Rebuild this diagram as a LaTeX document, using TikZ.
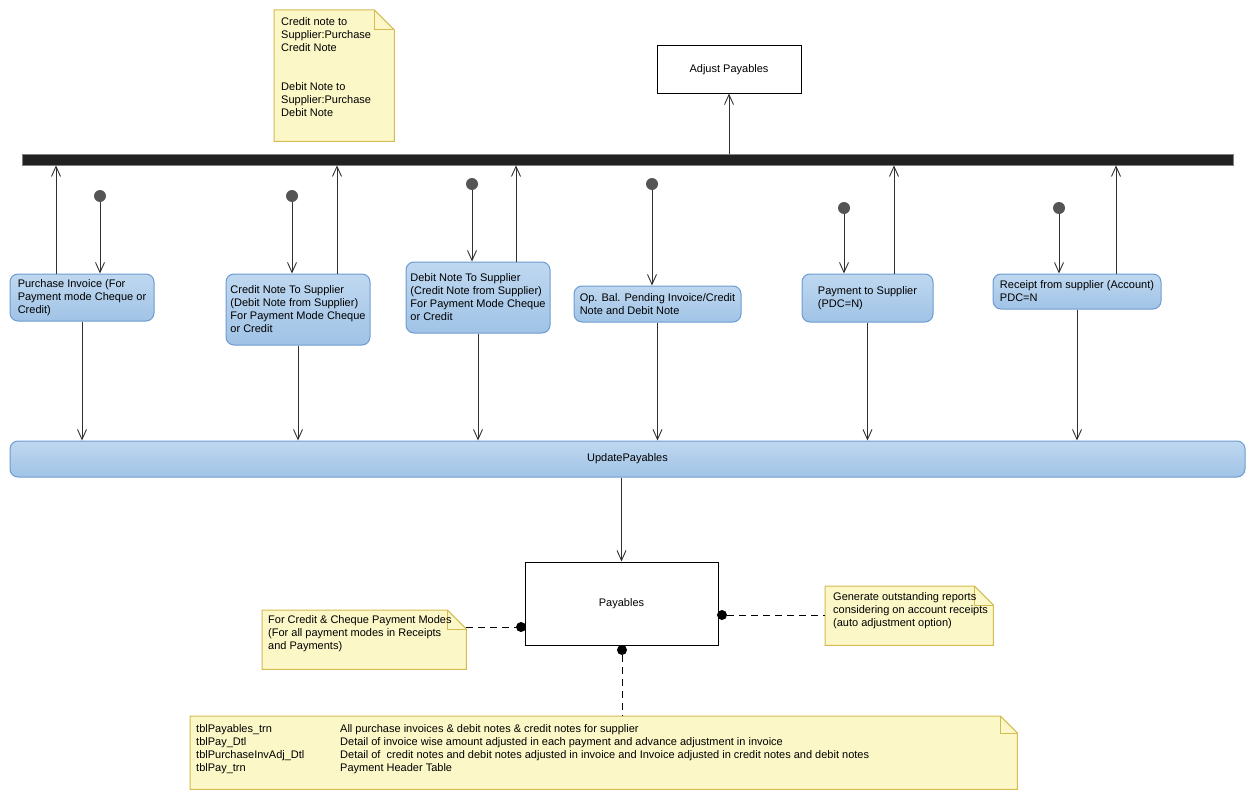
\documentclass[tikz,border=0pt]{standalone}
\usepackage{fontspec}
\setmainfont{Liberation Sans}
\usetikzlibrary{arrows.meta,calc}
\definecolor{notefill}{HTML}{FBF7C7}
\definecolor{noteline}{HTML}{D4BC52}
\definecolor{acttop}{HTML}{BFD8F0}
\definecolor{actbot}{HTML}{A0C3E6}
\definecolor{actline}{HTML}{6D9BD1}
\definecolor{dotgray}{HTML}{555555}
\definecolor{linegray}{HTML}{303030}
\begin{document}
\begin{tikzpicture}[x=1pt,y=-1pt,font=\fontsize{11}{13}\selectfont,
  act/.style={draw=actline,line width=1pt,rounded corners=8pt,top color=acttop,bottom color=actbot,align=left,inner sep=0pt},
  plainbox/.style={draw=black,line width=1pt,fill=white,inner sep=0pt},
  barbox/.style={draw=gray,fill=black!87,line width=0.8pt,inner sep=0pt},
  initdot/.style={circle,fill=dotgray,minimum size=12pt,inner sep=0pt},
  enddot/.style={circle,fill=black,minimum size=10pt,inner sep=0pt},
  arr/.style={draw=linegray,line width=0.9pt,-{Straight Barb[length=10pt,width=9pt]}},
  dashline/.style={draw=black,line width=0.9pt,dash pattern=on 7pt off 5pt},
  notebg/.style={inner sep=0pt,anchor=north west},
  notedraw/.style={draw=noteline,fill=notefill,line width=1pt,line join=miter},
  foldline/.style={draw=noteline,line width=1pt},
  txt/.style={inner sep=0pt,anchor=north west,align=left}
]
\useasboundingbox (0,0) rectangle (1256,800);

% bar and adjust
\node[barbox,minimum width=1211pt,minimum height=11pt] (bar) at (627.5,159.5) {};
\node[plainbox,minimum width=144pt,minimum height=47pt] (adj) at (729,69.5) {Adjust Payables};
\draw[arr] (bar.north -| adj.south) -- (adj.south);

% note 1
\node[notebg,minimum width=120pt,minimum height=131pt] (n1) at (274,10) {};
\draw[notedraw] (n1.north west) -- ($(n1.north east)+(-20,0)$) -- ($(n1.north east)+(0,20)$) -- (n1.south east) -- (n1.south west) -- cycle;
\draw[foldline] ($(n1.north east)+(-20,0)$) -- ($(n1.north east)+(-20,20)$) -- ($(n1.north east)+(0,20)$);
\node[txt] (n1t) at (281,17) {Credit note to\\Supplier:Purchase\\Credit Note\\[26pt]Debit Note to\\Supplier:Purchase\\Debit Note};

% activities
\node[act,minimum width=144pt,minimum height=47pt] (a1) at (82,297.5) {Purchase Invoice (For\\Payment mode Cheque or\\Credit)};
\node[act,minimum width=144pt,minimum height=71pt] (a2) at (298,309.5) {Credit Note To Supplier\\(Debit Note from Supplier)\\For Payment Mode Cheque\\or Credit};
\node[act,minimum width=144pt,minimum height=71pt] (a3) at (478,297.5) {Debit Note To Supplier\\(Credit Note from Supplier)\\For Payment Mode Cheque\\or Credit};
\node[act,minimum width=167pt,minimum height=36pt] (a4) at (657.5,304) {Op. Bal. Pending Invoice/Credit\\Note and Debit Note};
\node[act,minimum width=131pt,minimum height=48pt] (a5) at (867.5,298) {Payment to Supplier\\(PDC=N)};
\node[act,minimum width=168pt,minimum height=35pt] (a6) at (1077,291.5) {Receipt from supplier (Account)\\PDC=N};

% initial dots
\node[initdot] (i1) at (100,196) {};
\node[initdot] (i2) at (292,196) {};
\node[initdot] (i3) at (472,184) {};
\node[initdot] (i4) at (652,184) {};
\node[initdot] (i5) at (844,208) {};
\node[initdot] (i6) at (1059,208) {};
\draw[arr] (i1) -- (i1 |- a1.north);
\draw[arr] (i2) -- (i2 |- a2.north);
\draw[arr] (i3) -- (i3 |- a3.north);
\draw[arr] (i4) -- (i4 |- a4.north);
\draw[arr] (i5) -- (i5 |- a5.north);
\draw[arr] (i6) -- (i6 |- a6.north);

% up to bar
\draw[arr] (a1.north -| 56,0) -- (bar.south -| 56,0);
\draw[arr] (a2.north -| 337,0) -- (bar.south -| 337,0);
\draw[arr] (a3.north -| 516,0) -- (bar.south -| 516,0);
\draw[arr] (a5.north -| 894,0) -- (bar.south -| 894,0);
\draw[arr] (a6.north -| 1116,0) -- (bar.south -| 1116,0);

% update payables
\node[act,minimum width=1235pt,minimum height=36pt,align=center] (upd) at (627.5,459) {UpdatePayables};
\draw[arr] (a1.south) -- (a1.south |- upd.north);
\draw[arr] (a2.south) -- (a2.south |- upd.north);
\draw[arr] (a3.south) -- (a3.south |- upd.north);
\draw[arr] (a4.south) -- (a4.south |- upd.north);
\draw[arr] (a5.south) -- (a5.south |- upd.north);
\draw[arr] (a6.south) -- (a6.south |- upd.north);

% payables
\node[plainbox,minimum width=193pt,minimum height=83pt] (pay) at (621.5,603.5) {Payables};
\draw[arr] (pay.north |- upd.south) -- (pay.north);

% left note
\node[notebg,minimum width=204pt,minimum height=59pt] (n2) at (262,610) {};
\draw[notedraw] (n2.north west) -- ($(n2.north east)+(-19,0)$) -- ($(n2.north east)+(0,19)$) -- (n2.south east) -- (n2.south west) -- cycle;
\draw[foldline] ($(n2.north east)+(-19,0)$) -- ($(n2.north east)+(-19,19)$) -- ($(n2.north east)+(0,19)$);
\node[txt] (n2t) at (268,615) {For Credit \& Cheque Payment Modes\\(For all payment modes in Receipts\\and Payments)};

% right note
\node[notebg,minimum width=168pt,minimum height=59pt] (n3) at (825,586) {};
\draw[notedraw] (n3.north west) -- ($(n3.north east)+(-19,0)$) -- ($(n3.north east)+(0,19)$) -- (n3.south east) -- (n3.south west) -- cycle;
\draw[foldline] ($(n3.north east)+(-19,0)$) -- ($(n3.north east)+(-19,19)$) -- ($(n3.north east)+(0,19)$);
\node[txt] (n3t) at (833,592) {Generate outstanding reports\\considering on account receipts\\(auto adjustment option)};

% bottom note
\node[notebg,minimum width=827pt,minimum height=73pt] (n4) at (190,716) {};
\draw[notedraw] (n4.north west) -- ($(n4.north east)+(-17,0)$) -- ($(n4.north east)+(0,17)$) -- (n4.south east) -- (n4.south west) -- cycle;
\draw[foldline] ($(n4.north east)+(-17,0)$) -- ($(n4.north east)+(-17,17)$) -- ($(n4.north east)+(0,17)$);
\node[txt] (n4a) at (196,724) {tblPayables\_trn\\tblPay\_Dtl\\tblPurchaseInvAdj\_Dtl\\tblPay\_trn};
\node[txt] (n4b) at (340,724) {All purchase invoices \& debit notes \& credit notes for supplier\\Detail of invoice wise amount adjusted in each payment and advance adjustment in invoice\\Detail of\ \ credit notes and debit notes adjusted in invoice and Invoice adjusted in credit notes and debit notes\\Payment Header Table};

% connector dots
\node[enddot] (d1) at (521,627) {};
\node[enddot] (d2) at (722,615) {};
\node[enddot] (d3) at (622,650) {};
\draw[dashline] (d1 -| n2.east) -- (d1);
\draw[dashline] (d2) -- (d2 -| n3.west);
\draw[dashline] (d3) -- (d3 |- n4.north);
\end{tikzpicture}
\end{document}
